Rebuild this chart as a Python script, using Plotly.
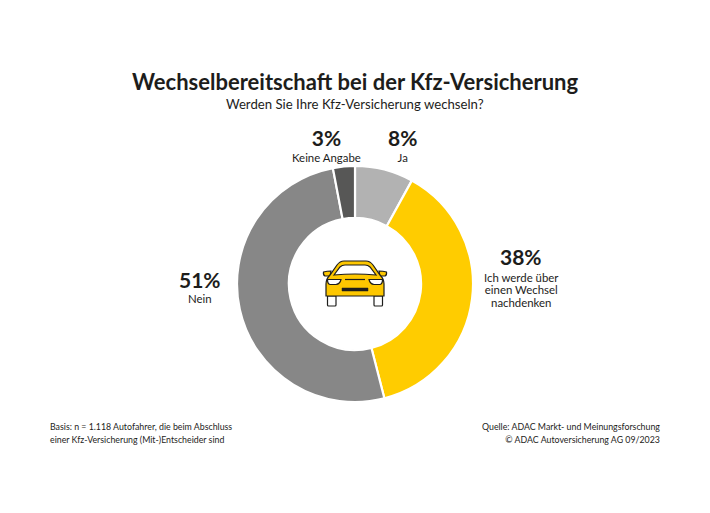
import plotly.graph_objects as go

# values
labels = ["Ja", "Ich werde über einen Wechsel nachdenken", "Nein", "Keine Angabe"]
values = [8, 38, 51, 3]
colors = ["#b2b2b2", "#ffcc00", "#878787", "#575756"]

WIDTH, HEIGHT = 710, 513
CX, CY, R = 355, 284, 118

FONT = "Lato"
TEXT = "#1d1d1b"
PCT_SIZE = 21
LABEL_SIZE = 11.4
FOOT_SIZE = 8.8

title = "Wechselbereitschaft bei der Kfz-Versicherung"
subtitle = "Werden Sie Ihre Kfz-Versicherung wechseln?"
footer_left = ["Basis: n = 1.118 Autofahrer, die beim Abschluss", "einer Kfz-Versicherung (Mit-)Entscheider sind"]
footer_right = ["Quelle: ADAC Markt- und Meinungsforschung", "© ADAC Autoversicherung AG 09/2023"]
wechsel_lines = ["Ich werde über", "einen Wechsel", "nachdenken"]

fig = go.Figure()

fig.add_trace(go.Pie(
    labels=labels, values=values, hole=0.56, sort=False, direction="clockwise", rotation=0,
    marker=dict(colors=colors, line=dict(color="white", width=2.2)),
    textinfo="none", hoverinfo="label+percent", showlegend=False,
    domain=dict(x=[(CX - R) / WIDTH, (CX + R) / WIDTH],
                y=[1 - (CY + R) / HEIGHT, 1 - (CY - R) / HEIGHT]),
))


def add_text(x, y, text, size, anchor="center"):
    # size drives the line spacing (1.3em), spans inside set the real glyph size
    fig.add_annotation(
        x=x, y=y, xref="x", yref="y", text=text,
        showarrow=False, xanchor=anchor, yanchor="middle", align=anchor,
        font=dict(family=FONT, size=size, color=TEXT),
    )


def span(text, size):
    return f'<span style="font-size:{size}px">{text}</span>'


def pct_block(pct, label):
    return f"<b>{span(pct, PCT_SIZE)}</b><br>{span(label, LABEL_SIZE)}"


def lines_block(lines, size):
    return "<br>".join(span(line, size) for line in lines)


add_text(355, 81, f"<b>{title}</b>", 22)
add_text(355, 104, subtitle, 13.2)

add_text(326, 144, pct_block("3%", "Keine Angabe"), 12.3)
add_text(402, 144, pct_block("8%", "Ja"), 12.3)
add_text(200, 285.5, pct_block("51%", "Nein"), 11.5)
add_text(521, 256, f"<b>{span('38%', PCT_SIZE)}</b>", 14)
add_text(521, 289.5, lines_block(wechsel_lines, LABEL_SIZE), 9.6)

add_text(48, 433, lines_block(footer_left, FOOT_SIZE), 10, anchor="left")
add_text(662, 433, lines_block(footer_right, FOOT_SIZE), 10, anchor="right")

# car icon in the middle of the ring
BLACK = "#1d1d1b"
YELLOW = "#fdc700"
car_parts = [
    ("M327.5 296 H336 V305 Q336 306 335 306 H328.5 Q327.5 306 327.5 305 Z", "white"),
    ("M374 296 H382.5 V305 Q382.5 306 381.5 306 H375 Q374 306 374 305 Z", "white"),
    ("M323.5 272 Q327 271 331 271 L330 276 H325 Q323 275 323.5 272 Z", YELLOW),
    ("M386.5 272 Q383 271 379 271 L380 276 H385 Q387 275 386.5 272 Z", YELLOW),
    ("M326 296 V284 Q326 279 330 275 L337 265 Q340 261 344 261 H366 Q370 261 373 265 L380 275 "
     "Q384 279 384 284 V296 Z", YELLOW),
    ("M334 275 L340 267 Q342 265 345 265 H365 Q368 265 370 267 L376 275 Q355 273 334 275 Z", "white"),
    ("M327.5 279.5 H341 Q340 284 336 284.5 H330 Q327.5 284 327.5 279.5 Z", "white"),
    ("M382.5 279.5 H369 Q370 284 374 284.5 H380 Q382.5 284 382.5 279.5 Z", "white"),
    ("M342 288 H368 V291 H342 Z", BLACK),
    ("M345 279.5 H365", None),
]
for path, fill in car_parts:
    fig.add_shape(type="path", path=path, xref="x", yref="y", fillcolor=fill,
                  line=dict(color=BLACK, width=1.2 if fill != BLACK else 0.5))

fig.update_xaxes(range=[0, WIDTH], visible=False, fixedrange=True)
fig.update_yaxes(range=[HEIGHT, 0], visible=False, fixedrange=True)
fig.update_layout(
    width=WIDTH, height=HEIGHT, margin=dict(l=0, r=0, t=0, b=0),
    paper_bgcolor="white", plot_bgcolor="rgba(0,0,0,0)", showlegend=False,
    font=dict(family=FONT, color=TEXT),
)

fig.write_html("out.html", config=dict(displayModeBar=False),
               post_script="document.body.style.margin='0';")
